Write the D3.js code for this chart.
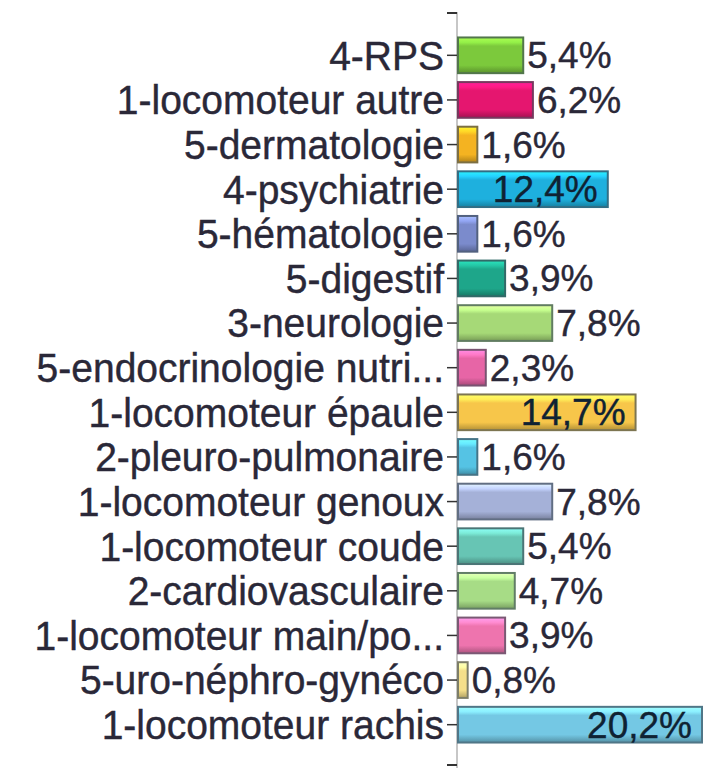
<!DOCTYPE html>
<html>
<head>
<meta charset="utf-8">
<title>Répartition par pathologie</title>
<script src="https://d3js.org/d3.v7.min.js"></script>
<style>
  body { margin: 0; background: #fff; }
  svg { display: block; font-family: "Liberation Sans", Arial, sans-serif; }
</style>
</head>
<body>
<div id="chart"></div>
<script>

// categories, top to bottom
var categories = ["4-RPS", "1-locomoteur autre", "5-dermatologie", "4-psychiatrie",
  "5-hématologie", "5-digestif", "3-neurologie", "5-endocrinologie nutri...",
  "1-locomoteur épaule", "2-pleuro-pulmonaire", "1-locomoteur genoux",
  "1-locomoteur coude", "2-cardiovasculaire", "1-locomoteur main/po...",
  "5-uro-néphro-gynéco", "1-locomoteur rachis"];

// share in %
var values = [5.4, 6.2, 1.6, 12.4, 1.6, 3.9, 7.8, 2.3, 14.7, 1.6, 7.8, 5.4, 4.7, 3.9, 0.8, 20.2];

var colors = ["#7cc93c", "#e5166f", "#f4b321", "#1eb0de", "#7b8bcc", "#1ea68a",
  "#a6d977", "#e765a6", "#f7c64a", "#55c3e4", "#a5b1d8", "#67c5b4",
  "#a7dc86", "#ee74ae", "#f5df8a", "#74c8e4"];

var width = 704, height = 768;

var svg = d3.select("#chart").append("svg")
  .attr("width", width)
  .attr("height", height);

svg.append("rect").attr("width", width).attr("height", height).attr("fill", "#fff");

var x = d3.scaleLinear().domain([0, 20.2]).range([458, 702]);
var y = d3.scaleBand().domain(categories).range([33, 747])
  .paddingInner(0.2).paddingOuter(0.1);

var fmt = function(v) { return d3.format(".1f")(v).replace(".", ",") + "%"; };

// bevel-ish gradients, one per bar
var defs = svg.append("defs");
categories.forEach(function(c, i) {
  var base = d3.color(colors[i]);
  var g = defs.append("linearGradient")
    .attr("id", "grad" + i)
    .attr("x1", 0).attr("y1", 0).attr("x2", 0).attr("y2", 1);
  g.append("stop").attr("offset", "0%").attr("stop-color", base.brighter(0.9));
  g.append("stop").attr("offset", "14%").attr("stop-color", base.brighter(0.5));
  g.append("stop").attr("offset", "24%").attr("stop-color", base);
  g.append("stop").attr("offset", "78%").attr("stop-color", base);
  g.append("stop").attr("offset", "100%").attr("stop-color", base.darker(0.9));
});

// axis line with end ticks
var axisTop = 12, axisBottom = 768;
svg.append("line")
  .attr("x1", x(0) - 1).attr("x2", x(0) - 1)
  .attr("y1", axisTop).attr("y2", axisBottom)
  .attr("stroke", "#b5b5b5").attr("stroke-width", 1.5);
[axisTop + 1, 765].forEach(function(t) {
  svg.append("line")
    .attr("x1", x(0) - 11).attr("x2", x(0) - 1)
    .attr("y1", t).attr("y2", t)
    .attr("stroke", "#333").attr("stroke-width", 2);
});

// bars
svg.selectAll(".bar")
  .data(categories)
  .enter()
  .append("rect")
  .attr("class", "bar")
  .attr("x", x(0))
  .attr("y", function(d) { return y(d); })
  .attr("width", function(d, i) { return x(values[i]) - x(0); })
  .attr("height", y.bandwidth())
  .attr("fill", function(d, i) { return "url(#grad" + i + ")"; })
  .attr("stroke", function(d, i) { return d3.interpolateRgb(colors[i], "#3c4a55")(0.65); })
  .attr("stroke-width", 2);

// category axis
var yAxis = d3.axisLeft(y).tickSize(10).tickPadding(3).tickSizeOuter(0);
var gy = svg.append("g")
  .attr("transform", "translate(" + (x(0) - 1) + ",0)")
  .call(yAxis);
gy.select(".domain").remove();
gy.selectAll(".tick line").attr("stroke", "#333").attr("stroke-width", 1.5);
gy.selectAll(".tick text")
  .attr("font-family", "'Liberation Sans', Arial, sans-serif")
  .attr("font-size", 39)
  .attr("fill", "#2a2838")
  .attr("stroke", "#2a2838")
  .attr("stroke-width", 0.4)
  .attr("dy", "0.35em")
  .attr("transform", "scale(1,1.05)");

// value labels
svg.selectAll(".val")
  .data(categories)
  .enter()
  .append("text")
  .attr("class", "val")
  .attr("x", function(d, i) { return values[i] > 10 ? x(values[i]) - 10 : x(values[i]) + 4; })
  .attr("y", function(d) { return y(d) + y.bandwidth() / 2; })
  .attr("dy", "0.35em")
  .attr("text-anchor", function(d, i) { return values[i] > 10 ? "end" : "start"; })
  .attr("font-size", 37)
  .attr("fill", function(d, i) { return values[i] > 10 ? "#0f2233" : "#2a2838"; })
  .attr("stroke", function(d, i) { return values[i] > 10 ? "#0f2233" : "#2a2838"; })
  .attr("stroke-width", 0.4)
  .text(function(d, i) { return fmt(values[i]); });

</script>
</body>
</html>
